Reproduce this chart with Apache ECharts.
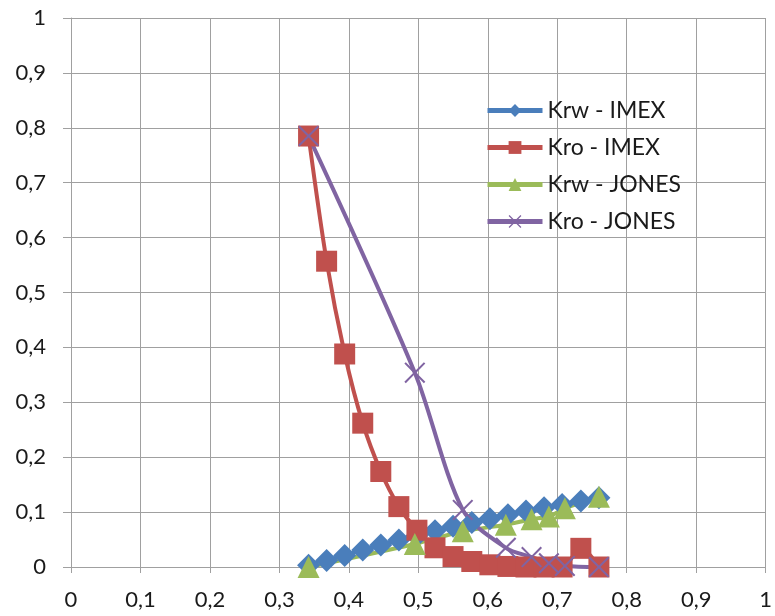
<!DOCTYPE html>
<html>
<head>
<meta charset="utf-8">
<script src="https://cdn.jsdelivr.net/npm/echarts@6/dist/echarts.min.js"></script>
<style>
html,body{margin:0;padding:0;background:#fff;}
#chart{width:775px;height:616px;}
</style>
</head>
<body>
<div id="chart"></div>
<script>
// Saturation values (x) and relative permeabilities (y)
var swIMEX = [0.342,0.368,0.394,0.420,0.446,0.472,0.498,0.524,0.550,0.577,0.603,0.629,0.655,0.681,0.707,0.734,0.760];
var krwIMEX = [0.003,0.012,0.021,0.031,0.040,0.049,0.057,0.066,0.074,0.081,0.088,0.095,0.102,0.108,0.114,0.120,0.126];
var kroIMEX = [0.785,0.557,0.388,0.262,0.174,0.110,0.067,0.035,0.019,0.010,0.004,0.001,0.000,0.000,0.000,0.034,0.000];
var swJONES = [0.342,0.495,0.564,0.626,0.663,0.688,0.711,0.760];
var krwJONES = [0.000,0.042,0.065,0.077,0.087,0.092,0.107,0.128];
var kroJONES = [0.785,0.354,0.104,0.035,0.018,0.007,0.002,0.000];
var seriesNames = ['Krw - IMEX','Kro - IMEX','Krw - JONES','Kro - JONES'];

function pairs(xs, ys){ return xs.map(function(x,i){ return [x, ys[i]]; }); }
function fmt(v){ return String(Math.round(v*10)/10).replace('.', ','); }

var crossPath = 'path://M0.7,0L5,4.3L9.3,0L10,0.7L5.7,5L10,9.3L9.3,10L5,5.7L0.7,10L0,9.3L4.3,5L0,0.7Z';
var FONT = 'Lato';
var gridColor = '#a0a0a0';
var LW = 4;

var chart = echarts.init(document.getElementById('chart'), null, {renderer:'canvas'});
chart.setOption({
  animation: false,
  backgroundColor: '#ffffff',
  grid: {left: 71, right: 6, top: 18, bottom: 49},
  legend: {
    orient: 'vertical', left: 480, top: 94,
    itemWidth: 55, itemHeight: 16, itemGap: 14,
    lineStyle: {width: 5},
    textStyle: {fontFamily: FONT, fontSize: 23, color: '#1a1a1a'},
    data: seriesNames
  },
  xAxis: {
    type: 'value', min: 0, max: 1, interval: 0.1,
    axisLine: {show: true, lineStyle: {color: gridColor, width: 1}},
    axisTick: {show: true, length: 6, lineStyle: {color: gridColor}},
    splitLine: {show: true, lineStyle: {color: gridColor, width: 1}},
    axisLabel: {formatter: fmt, fontFamily: FONT, fontSize: 22, color: '#1a1a1a', margin: 22}
  },
  yAxis: {
    type: 'value', min: 0, max: 1, interval: 0.1,
    axisLine: {show: true, lineStyle: {color: gridColor, width: 1}},
    axisTick: {show: true, length: 8, lineStyle: {color: gridColor}},
    splitLine: {show: true, lineStyle: {color: gridColor, width: 1}},
    axisLabel: {formatter: fmt, fontFamily: FONT, fontSize: 22, color: '#1a1a1a', margin: 25}
  },
  series: [
    {name: seriesNames[0], type: 'line', data: pairs(swIMEX, krwIMEX), smooth: 0.3,
     symbol: 'diamond', symbolSize: 23, color: '#4a7ebb',
     lineStyle: {width: LW, color: '#4a7ebb'}, itemStyle: {color: '#4a7ebb'}},
    {name: seriesNames[1], type: 'line', data: pairs(swIMEX, kroIMEX), smooth: 0.3,
     symbol: 'rect', symbolSize: 21, color: '#c0504d',
     lineStyle: {width: LW, color: '#c0504d'}, itemStyle: {color: '#c0504d'}},
    {name: seriesNames[2], type: 'line', data: pairs(swJONES, krwJONES), smooth: 0.3,
     symbol: 'triangle', symbolSize: 22, color: '#9bbb59',
     lineStyle: {width: LW, color: '#9bbb59'}, itemStyle: {color: '#9bbb59'}},
    {name: seriesNames[3], type: 'line', data: pairs(swJONES, kroJONES), smooth: 0.3,
     symbol: crossPath, symbolSize: 21, color: '#8064a2',
     lineStyle: {width: LW, color: '#8064a2'}, itemStyle: {color: '#8064a2'}}
  ]
});
</script>
</body>
</html>
